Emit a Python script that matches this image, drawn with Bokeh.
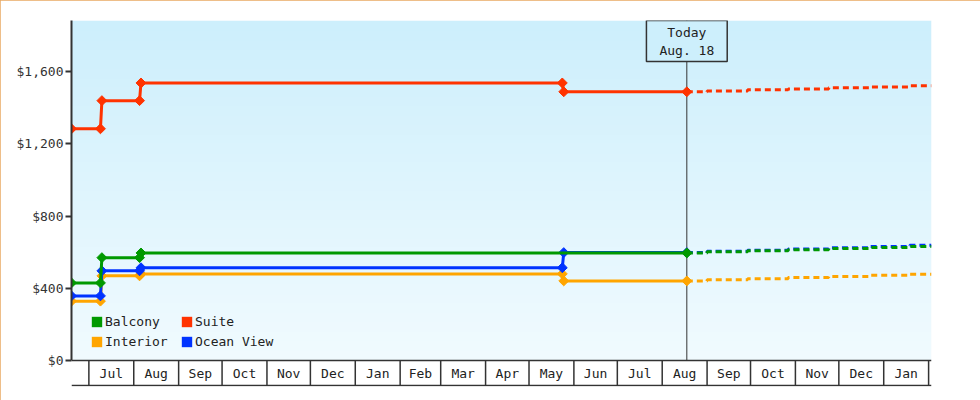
import numpy as np
import pandas as pd
from bokeh.plotting import figure
from bokeh.models import Range1d, FixedTicker, NumeralTickFormatter, Label, Legend, LegendItem
from bokeh.core.properties import value
from bokeh.embed import file_html
from bokeh.resources import INLINE

FONT = "DejaVu Sans Mono"

# price history (change points are listed twice: day before and day of the change)
hist_dates = ["2017-06-19", "2017-07-09", "2017-07-10", "2017-08-05", "2017-08-06",
              "2018-05-24", "2018-05-25", "2018-08-18"]
interior = [329, 329, 469, 469, 480, 480, 441, 441]
ocean_view = [358, 358, 497, 497, 514, 514, 598, 598]
suite = [1284, 1284, 1440, 1440, 1538, 1538, 1489, 1489]

balcony_dates = ["2017-06-19", "2017-07-09", "2017-07-10", "2017-08-05", "2017-08-06", "2018-08-18"]
balcony = [430, 430, 570, 570, 596, 596]

# forecast (dashed)
forecast_dates = ["2018-08-18", "2018-09-01", "2018-09-29", "2018-10-27", "2018-11-24",
                  "2018-12-22", "2019-01-19", "2019-02-03"]
interior_fc = [441, 447, 453, 460, 466, 472, 478, 478]
ocean_view_fc = [598, 605, 611, 618, 625, 632, 639, 639]
balcony_fc = [596, 602, 608, 614, 620, 626, 632, 632]
suite_fc = [1489, 1494, 1500, 1505, 1511, 1516, 1522, 1522]

month_starts = pd.date_range("2017-07-01", "2019-02-01", freq="MS")
month_labels = ["Jul", "Aug", "Sep", "Oct", "Nov", "Dec", "Jan", "Feb", "Mar", "Apr",
                "May", "Jun", "Jul", "Aug", "Sep", "Oct", "Nov", "Dec", "Jan"]
y_ticks = [0, 400, 800, 1200, 1600]

today = pd.Timestamp("2018-08-18")
today_text = "Today\nAug. 18"

x_start = pd.Timestamp("2017-06-19")
x_end = pd.Timestamp("2019-02-03")
Y_TOP = 1884
Y_BOT = -144
BAND = -138.5

colors = {"Balcony": "#009900", "Suite": "#ff3300", "Interior": "#ffa500", "Ocean View": "#0033ff"}
TOP_BG = (205, 239, 252)
BOT_BG = (241, 251, 255)


def ms(t):
    return pd.Timestamp(t).timestamp() * 1000


p = figure(width=980, height=400, x_range=Range1d(x_start, x_end), y_range=Range1d(Y_BOT, Y_TOP),
           x_axis_type="datetime", x_axis_location=None, output_backend="svg", toolbar_location=None,
           min_border_left=71, min_border_right=49, min_border_top=20, min_border_bottom=14)
p.styles = {"outline": "1px solid #e8a862", "outline-offset": "-1px"}
p.outline_line_color = None
p.background_fill_color = "white"
p.grid.visible = False

# gradient background above $0
rows = 200
img = np.empty((rows, 1), dtype=np.uint32)
view = img.view(dtype=np.uint8).reshape((rows, 1, 4))
t = np.linspace(0, 1, rows)
for i in range(3):
    view[:, 0, i] = (BOT_BG[i] + (TOP_BG[i] - BOT_BG[i]) * t).astype(np.uint8)
view[:, 0, 3] = 255
p.image_rgba(image=[img], x=[ms(x_start)], y=[0], dw=[ms(x_end) - ms(x_start)], dh=[Y_TOP])

# y axis
ax = p.yaxis[0]
ax.ticker = FixedTicker(ticks=y_ticks)
ax.formatter = NumeralTickFormatter(format="$0,0")
ax.bounds = (0, Y_TOP)
ax.axis_line_width = 2
ax.axis_line_color = "#333333"
ax.major_tick_line_color = "#333333"
ax.major_tick_line_width = 2
ax.major_tick_out = 6
ax.major_tick_in = 0
ax.minor_tick_line_color = None
ax.major_label_standoff = 2
ax.major_label_text_font = FONT
ax.major_label_text_font_size = "13px"
ax.major_label_text_color = "#333333"

# month band below the plot
p.segment(x0=[x_start, x_start], y0=[0, BAND], x1=[x_end, x_end], y1=[0, BAND],
          line_color="#333333", line_width=1.5)
p.segment(x0=month_starts, y0=0, x1=month_starts, y1=BAND, line_color="#333333", line_width=1.5)
mids = month_starts[:-1] + (month_starts[1:] - month_starts[:-1]) / 2
p.text(x=mids, y=[BAND / 2] * len(mids), text=month_labels, text_align="center",
       text_baseline="middle", text_font=value(FONT), text_font_size="13px", text_color="#222222")

# today marker
p.segment(x0=[today], y0=[0], x1=[today], y1=[Y_TOP], line_color="#333333", line_width=1)
p.add_layout(Label(x=ms(today), y=Y_TOP, text=today_text, text_align="center", text_baseline="top",
                   text_font=FONT, text_font_size="13px", text_color="#222222",
                   border_line_color="#333333", border_line_width=1.5,
                   background_fill_color="#cdeffc",
                   padding=dict(left=13, right=13, top=4, bottom=4)))

series = [
    ("Interior", hist_dates, interior, interior_fc),
    ("Ocean View", hist_dates, ocean_view, ocean_view_fc),
    ("Balcony", balcony_dates, balcony, balcony_fc),
    ("Suite", hist_dates, suite, suite_fc),
]
swatch = {}
for name, d, vals, fc in series:
    c = colors[name]
    dd = pd.to_datetime(d)
    p.step(pd.to_datetime(forecast_dates), fc, mode="after", line_width=3, line_dash="6 4", line_color=c)
    p.line(dd, vals, line_width=3, line_color=c)
    p.scatter(dd, vals, marker="square", angle=np.pi / 4, size=7, color=c)
    # legend swatch only (NaN coordinates, nothing drawn in the plot)
    swatch[name] = p.quad(left=[np.nan], right=[np.nan], top=[np.nan], bottom=[np.nan],
                          fill_color=c, line_color=None)

# column-major filling: first column Balcony/Interior, second Suite/Ocean View
legend = Legend(items=[LegendItem(label=n, renderers=[swatch[n]])
                       for n in ["Balcony", "Interior", "Suite", "Ocean View"]],
                location=(19, 37), ncols=2, padding=5, spacing=5, margin=0,
                glyph_width=13, glyph_height=13, label_standoff=2, label_width=70,
                label_text_font=FONT, label_text_font_size="13px", label_text_color="#222222",
                border_line_color=None, background_fill_alpha=0)
p.add_layout(legend)

open("out.html", "w").write(file_html(p, INLINE))
